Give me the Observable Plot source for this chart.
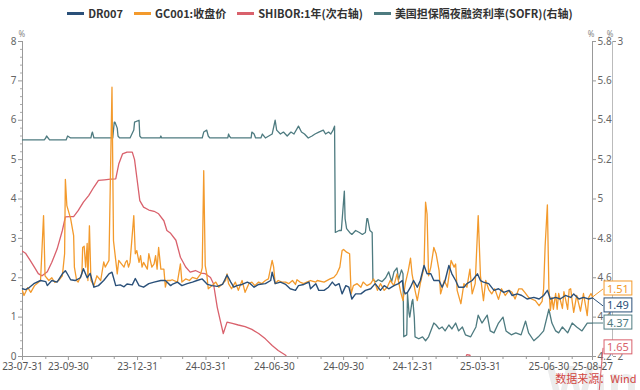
<!DOCTYPE html>
<html><head><meta charset="utf-8">
<script src="https://cdn.jsdelivr.net/npm/d3@7"></script>
<script src="https://cdn.jsdelivr.net/npm/@observablehq/plot@0.6"></script>
<style>
body{margin:0;width:640px;height:390px;overflow:hidden;background:#fff;font-family:"Noto Sans CJK SC","Noto Sans",sans-serif;}
#legend{height:26px;display:flex;justify-content:center;align-items:center;gap:11px;font-size:11px;font-weight:bold;color:#333;}
.item{display:flex;align-items:center;gap:4px;white-space:nowrap}
.sw{width:17px;height:3px;display:inline-block}
</style></head><body>
<div id="legend"></div><div id="chart"></div>
<script>
// ---- data ----
const seriesNames = ["DR007", "GC001:收盘价", "SHIBOR:1年(次右轴)", "美国担保隔夜融资利率(SOFR)(右轴)"];
const seriesColors = ["#2a5079", "#f39a2c", "#d9616c", "#4e7b80"];
const leftDomain = [0, 8];
const rightDomain = [4.2, 5.8];   // SOFR (右轴)
const secondDomain = [2, 3];      // SHIBOR (次右轴)
const leftTicks = [0,1,2,3,4,5,6,7,8];
const leftMinorTicks = [0.2,0.4,0.6,0.8,1.2,1.4,1.6,1.8,2.2,2.4,2.6,2.8,3.2,3.4,3.6,3.8,4.2,4.4,4.6,4.8,5.2,5.4,5.6,5.8,6.2,6.4,6.6,6.8,7.2,7.4,7.6,7.8];
const rightTicks = [4.2,4.4,4.6,4.8,5,5.2,5.4,5.6,5.8];
const secondTicks = [2,3];
const xLabelDates = ["2023-07-31","2023-09-30","2023-12-31","2024-03-31","2024-06-30","2024-09-30","2024-12-31","2025-03-31","2025-06-30","2025-08-27"];
const monthEnds = ["2023-08-31","2023-10-31","2023-11-30","2024-01-31","2024-02-29","2024-04-30","2024-05-31","2024-07-31","2024-08-31","2024-10-31","2024-11-30","2025-01-31","2025-02-28","2025-04-30","2025-05-31","2025-07-31"];
const caption = "数据来源：Wind";

const dr007 = [["2023-07-31",1.72],["2023-08-04",1.70],["2023-08-09",1.75],["2023-08-15",1.85],["2023-08-24",1.93],["2023-08-31",1.90],["2023-09-02",1.80],["2023-09-08",1.93],["2023-09-15",1.89],["2023-09-22",2.10],["2023-09-26",2.18],["2023-09-28",2.12],["2023-10-03",1.95],["2023-10-09",1.93],["2023-10-16",2.00],["2023-10-20",2.23],["2023-10-25",2.00],["2023-10-29",2.11],["2023-11-03",1.76],["2023-11-09",1.80],["2023-11-16",1.93],["2023-11-23",2.10],["2023-11-27",2.14],["2023-12-02",1.80],["2023-12-08",1.82],["2023-12-13",1.77],["2023-12-17",1.84],["2023-12-24",1.82],["2023-12-28",1.98],["2024-01-02",1.80],["2024-01-08",1.76],["2024-01-15",1.85],["2024-01-22",1.89],["2024-01-31",1.93],["2024-02-06",1.93],["2024-02-13",1.80],["2024-02-15",1.83],["2024-02-22",1.89],["2024-02-28",1.80],["2024-03-06",1.85],["2024-03-13",1.89],["2024-03-19",1.93],["2024-03-26",1.97],["2024-04-02",1.83],["2024-04-08",1.80],["2024-04-15",1.78],["2024-04-22",1.83],["2024-04-28",2.07],["2024-05-03",1.89],["2024-05-07",1.76],["2024-05-11",1.80],["2024-05-18",1.83],["2024-05-25",1.89],["2024-05-29",1.85],["2024-06-03",1.76],["2024-06-09",1.83],["2024-06-18",1.85],["2024-06-25",1.93],["2024-06-27",2.14],["2024-07-01",1.85],["2024-07-08",1.89],["2024-07-15",1.83],["2024-07-21",1.72],["2024-07-28",1.68],["2024-08-01",1.80],["2024-08-08",1.83],["2024-08-15",1.89],["2024-08-17",1.72],["2024-08-24",1.85],["2024-08-28",1.68],["2024-09-04",1.68],["2024-09-10",1.76],["2024-09-15",1.89],["2024-09-19",1.80],["2024-09-24",1.85],["2024-09-28",1.59],["2024-10-03",1.80],["2024-10-07",1.76],["2024-10-11",1.46],["2024-10-16",1.59],["2024-10-23",1.59],["2024-10-29",1.68],["2024-11-05",1.72],["2024-11-11",1.85],["2024-11-18",1.68],["2024-11-23",1.80],["2024-11-29",1.72],["2024-12-06",1.80],["2024-12-12",1.85],["2024-12-17",1.93],["2024-12-19",1.68],["2024-12-21",1.59],["2024-12-24",1.63],["2024-12-28",1.76],["2025-01-01",1.93],["2025-01-06",1.76],["2025-01-10",1.93],["2025-01-15",2.31],["2025-01-19",2.10],["2025-01-24",2.10],["2025-01-28",1.93],["2025-02-04",1.93],["2025-02-08",1.76],["2025-02-12",1.93],["2025-02-17",2.31],["2025-02-21",2.10],["2025-02-26",1.93],["2025-03-02",1.76],["2025-03-09",1.76],["2025-03-13",1.85],["2025-03-20",1.93],["2025-03-27",2.10],["2025-03-31",1.93],["2025-04-04",1.89],["2025-04-11",1.85],["2025-04-18",1.68],["2025-04-24",1.72],["2025-05-01",1.63],["2025-05-08",1.68],["2025-05-12",1.55],["2025-05-19",1.59],["2025-05-25",1.55],["2025-06-01",1.46],["2025-06-10",1.50],["2025-06-17",1.46],["2025-06-23",1.55],["2025-06-28",1.68],["2025-07-02",1.46],["2025-07-09",1.50],["2025-07-15",1.46],["2025-07-22",1.55],["2025-07-29",1.50],["2025-08-02",1.59],["2025-08-09",1.46],["2025-08-15",1.50],["2025-08-22",1.46],["2025-08-27",1.49]];

const gc001 = [["2023-07-31",1.67],["2023-08-02",1.55],["2023-08-07",1.75],["2023-08-11",1.63],["2023-08-16",1.80],["2023-08-19",1.85],["2023-08-24",1.93],["2023-08-28",3.58],["2023-08-30",2.05],["2023-09-04",1.93],["2023-09-08",2.00],["2023-09-12",1.88],["2023-09-17",1.93],["2023-09-22",2.05],["2023-09-25",2.61],["2023-09-26",4.50],["2023-09-28",3.83],["2023-10-03",3.50],["2023-10-07",3.07],["2023-10-08",2.27],["2023-10-11",1.93],["2023-10-13",1.89],["2023-10-18",2.10],["2023-10-19",2.77],["2023-10-21",2.80],["2023-10-23",2.27],["2023-10-25",2.87],["2023-10-26",1.93],["2023-10-28",3.32],["2023-10-30",1.93],["2023-11-03",1.80],["2023-11-07",2.05],["2023-11-12",1.93],["2023-11-16",2.40],["2023-11-18",2.27],["2023-11-23",2.44],["2023-11-27",6.84],["2023-11-29",2.94],["2023-12-02",2.44],["2023-12-04",2.10],["2023-12-06",2.44],["2023-12-08",2.39],["2023-12-13",2.27],["2023-12-15",2.39],["2023-12-17",2.44],["2023-12-19",2.27],["2023-12-21",2.39],["2023-12-26",3.58],["2023-12-28",2.61],["2023-12-30",2.69],["2024-01-02",2.39],["2024-01-04",2.56],["2024-01-06",2.27],["2024-01-08",2.39],["2024-01-13",2.22],["2024-01-15",2.61],["2024-01-19",2.27],["2024-01-22",2.35],["2024-01-24",2.56],["2024-01-26",2.22],["2024-01-28",2.77],["2024-01-31",2.22],["2024-02-04",2.22],["2024-02-06",1.76],["2024-02-08",1.93],["2024-02-13",1.93],["2024-02-15",1.95],["2024-02-22",1.89],["2024-02-26",2.35],["2024-02-28",1.89],["2024-03-04",1.97],["2024-03-09",1.93],["2024-03-13",2.01],["2024-03-19",1.97],["2024-03-24",2.10],["2024-03-26",2.25],["2024-03-28",4.72],["2024-03-30",2.31],["2024-04-01",2.10],["2024-04-03",1.72],["2024-04-08",1.80],["2024-04-13",1.89],["2024-04-17",1.76],["2024-04-22",1.85],["2024-04-26",1.93],["2024-04-28",2.10],["2024-04-30",1.85],["2024-05-04",1.72],["2024-05-09",1.89],["2024-05-13",1.68],["2024-05-18",1.93],["2024-05-22",1.63],["2024-05-27",1.85],["2024-05-31",1.89],["2024-06-04",1.80],["2024-06-09",1.89],["2024-06-13",1.85],["2024-06-18",1.93],["2024-06-22",1.97],["2024-06-27",2.44],["2024-06-29",2.27],["2024-07-01",1.85],["2024-07-05",1.93],["2024-07-10",1.89],["2024-07-15",1.89],["2024-07-19",1.85],["2024-07-24",1.93],["2024-07-28",1.83],["2024-07-30",1.95],["2024-08-03",1.89],["2024-08-08",1.85],["2024-08-12",1.89],["2024-08-17",1.93],["2024-08-24",1.89],["2024-08-26",1.93],["2024-09-04",1.89],["2024-09-12",1.97],["2024-09-17",2.01],["2024-09-21",2.10],["2024-09-25",2.27],["2024-09-28",2.69],["2024-09-30",2.72],["2024-10-04",2.65],["2024-10-08",2.61],["2024-10-10",1.59],["2024-10-13",1.80],["2024-10-18",1.85],["2024-10-23",1.76],["2024-10-26",1.89],["2024-10-31",1.80],["2024-11-05",1.85],["2024-11-09",1.97],["2024-11-14",1.68],["2024-11-18",1.85],["2024-11-23",1.68],["2024-11-27",1.76],["2024-12-01",1.93],["2024-12-06",1.80],["2024-12-10",2.10],["2024-12-15",1.63],["2024-12-18",1.42],["2024-12-21",1.85],["2024-12-25",2.18],["2024-12-28",2.50],["2024-12-30",2.10],["2025-01-03",1.68],["2025-01-06",1.42],["2025-01-10",1.85],["2025-01-15",2.27],["2025-01-17",3.92],["2025-01-19",3.62],["2025-01-21",2.05],["2025-01-24",2.27],["2025-01-28",2.77],["2025-01-31",2.61],["2025-02-04",2.18],["2025-02-06",1.59],["2025-02-11",1.93],["2025-02-15",1.76],["2025-02-20",2.44],["2025-02-24",2.27],["2025-02-26",2.35],["2025-02-28",1.68],["2025-03-05",1.34],["2025-03-09",1.85],["2025-03-13",1.76],["2025-03-17",2.22],["2025-03-20",1.59],["2025-03-24",1.85],["2025-03-28",3.58],["2025-03-31",2.05],["2025-04-04",1.42],["2025-04-07",1.93],["2025-04-11",1.70],["2025-04-15",1.59],["2025-04-19",1.72],["2025-04-24",1.45],["2025-04-28",1.72],["2025-05-03",1.55],["2025-05-08",1.68],["2025-05-12",1.63],["2025-05-16",1.46],["2025-05-21",1.72],["2025-05-25",1.72],["2025-05-29",1.63],["2025-06-03",1.50],["2025-06-07",1.46],["2025-06-12",1.42],["2025-06-17",1.29],["2025-06-21",1.40],["2025-06-23",1.72],["2025-06-25",2.80],["2025-06-28",3.85],["2025-06-30",1.72],["2025-07-02",1.17],["2025-07-04",1.50],["2025-07-06",1.20],["2025-07-09",1.60],["2025-07-11",1.20],["2025-07-13",1.60],["2025-07-18",1.22],["2025-07-20",1.65],["2025-07-25",1.20],["2025-07-27",1.70],["2025-07-29",1.72],["2025-07-31",1.40],["2025-08-02",1.12],["2025-08-06",1.55],["2025-08-11",1.15],["2025-08-15",1.60],["2025-08-20",1.04],["2025-08-22",1.50],["2025-08-25",1.60],["2025-08-27",1.51]];

const shibor1y = [["2023-07-31",2.334],["2023-08-04",2.328],["2023-08-10",2.306],["2023-08-17",2.279],["2023-08-21",2.263],["2023-08-26",2.256],["2023-09-02",2.269],["2023-09-08",2.299],["2023-09-15",2.341],["2023-09-22",2.400],["2023-09-26",2.443],["2023-10-02",2.444],["2023-10-07",2.444],["2023-10-13",2.463],["2023-10-20",2.490],["2023-10-27",2.511],["2023-11-03",2.538],["2023-11-09",2.559],["2023-11-17",2.561],["2023-11-25",2.563],["2023-12-02",2.564],["2023-12-06",2.611],["2023-12-11",2.643],["2023-12-17",2.649],["2023-12-24",2.649],["2023-12-27",2.625],["2023-12-30",2.569],["2024-01-03",2.495],["2024-01-08",2.474],["2024-01-15",2.465],["2024-01-22",2.461],["2024-01-28",2.453],["2024-02-04",2.431],["2024-02-08",2.400],["2024-02-13",2.391],["2024-02-20",2.369],["2024-02-26",2.315],["2024-03-04",2.284],["2024-03-10",2.268],["2024-03-17",2.273],["2024-03-24",2.265],["2024-03-30",2.263],["2024-04-06",2.251],["2024-04-10",2.231],["2024-04-15",2.156],["2024-04-19",2.114],["2024-04-23",2.073],["2024-04-28",2.109],["2024-05-05",2.105],["2024-05-13",2.100],["2024-05-22",2.095],["2024-05-31",2.086],["2024-06-09",2.073],["2024-06-18",2.056],["2024-06-27",2.035],["2024-07-05",2.019],["2024-07-15",2.004],["2024-07-21",1.975],["2024-08-15",1.92],["2024-09-13",1.87],["2024-10-15",1.81],["2024-11-15",1.78],["2024-12-13",1.70],["2024-12-31",1.68],["2025-01-15",1.72],["2025-02-05",1.80],["2025-02-25",1.92],["2025-03-10",1.99],["2025-03-13",2.006],["2025-03-17",2.004],["2025-03-20",1.98],["2025-04-10",1.85],["2025-05-15",1.75],["2025-06-15",1.68],["2025-07-15",1.64],["2025-08-27",1.65]];

const sofr = [["2023-07-31",5.30],["2023-08-29",5.30],["2023-08-31",5.31],["2023-09-01",5.32],["2023-09-05",5.30],["2023-09-27",5.30],["2023-09-29",5.32],["2023-10-03",5.31],["2023-10-30",5.31],["2023-10-31",5.33],["2023-11-01",5.34],["2023-11-03",5.31],["2023-11-28",5.31],["2023-11-30",5.39],["2023-12-01",5.39],["2023-12-04",5.36],["2023-12-05",5.32],["2023-12-07",5.31],["2023-12-21",5.31],["2023-12-26",5.35],["2023-12-27",5.39],["2024-01-02",5.40],["2024-01-03",5.32],["2024-01-05",5.31],["2024-01-30",5.31],["2024-01-31",5.32],["2024-02-01",5.31],["2024-03-26",5.31],["2024-03-28",5.34],["2024-04-01",5.35],["2024-04-03",5.32],["2024-04-05",5.31],["2024-04-29",5.31],["2024-04-30",5.33],["2024-05-01",5.32],["2024-05-03",5.31],["2024-05-30",5.31],["2024-05-31",5.34],["2024-06-03",5.33],["2024-06-05",5.31],["2024-06-12",5.31],["2024-06-14",5.33],["2024-06-18",5.31],["2024-06-27",5.33],["2024-07-01",5.40],["2024-07-03",5.35],["2024-07-08",5.33],["2024-07-12",5.34],["2024-07-17",5.32],["2024-07-22",5.34],["2024-07-26",5.33],["2024-08-01",5.37],["2024-08-05",5.34],["2024-08-09",5.33],["2024-08-14",5.31],["2024-08-19",5.32],["2024-08-23",5.33],["2024-08-28",5.34],["2024-09-03",5.35],["2024-09-06",5.33],["2024-09-10",5.34],["2024-09-13",5.33],["2024-09-16",5.35],["2024-09-18",5.37],["2024-09-19",4.83],["2024-09-24",4.84],["2024-09-27",4.84],["2024-10-01",5.04],["2024-10-02",4.90],["2024-10-04",4.85],["2024-10-08",4.83],["2024-10-11",4.82],["2024-10-16",4.84],["2024-10-21",4.83],["2024-10-25",4.82],["2024-10-29",4.83],["2024-10-31",4.90],["2024-11-01",4.90],["2024-11-04",4.84],["2024-11-07",4.83],["2024-11-08",4.59],["2024-11-12",4.58],["2024-11-15",4.59],["2024-11-20",4.58],["2024-11-25",4.60],["2024-11-29",4.63],["2024-12-03",4.58],["2024-12-06",4.63],["2024-12-10",4.65],["2024-12-12",4.59],["2024-12-16",4.64],["2024-12-18",4.62],["2024-12-19",4.30],["2024-12-23",4.31],["2024-12-24",4.52],["2024-12-26",4.42],["2024-12-27",4.40],["2024-12-30",4.48],["2024-12-31",4.49],["2025-01-02",4.40],["2025-01-03",4.30],["2025-01-08",4.29],["2025-01-13",4.30],["2025-01-17",4.28],["2025-01-21",4.30],["2025-01-28",4.37],["2025-01-31",4.36],["2025-02-04",4.34],["2025-02-08",4.35],["2025-02-12",4.33],["2025-02-17",4.36],["2025-02-21",4.34],["2025-02-26",4.37],["2025-03-02",4.33],["2025-03-07",4.35],["2025-03-11",4.31],["2025-03-18",4.30],["2025-03-25",4.35],["2025-03-28",4.41],["2025-04-02",4.37],["2025-04-09",4.41],["2025-04-13",4.33],["2025-04-18",4.32],["2025-04-24",4.37],["2025-04-30",4.40],["2025-05-04",4.33],["2025-05-11",4.31],["2025-05-17",4.32],["2025-05-24",4.31],["2025-05-30",4.38],["2025-06-03",4.32],["2025-06-10",4.28],["2025-06-16",4.30],["2025-06-23",4.33],["2025-06-30",4.44],["2025-07-04",4.37],["2025-07-09",4.33],["2025-07-13",4.32],["2025-07-18",4.35],["2025-07-25",4.32],["2025-07-31",4.37],["2025-08-06",4.35],["2025-08-13",4.33],["2025-08-20",4.37],["2025-08-27",4.37]];

// ---- build ----
const parse = d3.utcParse("%Y-%m-%d");
const [BLUE, ORANGE, RED, TEAL] = seriesColors;
const toLeftFromRight = d3.scaleLinear(rightDomain, leftDomain);
const toLeftFromSecond = d3.scaleLinear(secondDomain, leftDomain);
const rows = (pairs, f) => pairs.map(([d, v]) => ({date: parse(d), value: v, y: f(v)}));
const dr = rows(dr007, v => v);
const gc = rows(gc001, v => v);
const sh = rows(shibor1y, v => toLeftFromSecond(v));
const so = rows(sofr, v => toLeftFromRight(v));
const xStart = parse(xLabelDates[0]), xEnd = parse(xLabelDates[xLabelDates.length - 1]);
const labelX = d3.utcDay.offset(xEnd, 14);

// end labels, de-overlapped
const ends = [
  {row: gc.at(-1), color: ORANGE},
  {row: dr.at(-1), color: BLUE},
  {row: so.at(-1), color: TEAL},
  {row: sh.at(-1), color: RED}
].map(d => ({value: d.row.value, y: d.row.y, ly: d.row.y, color: d.color}));
const gap = 0.43, floor = 0.22;
ends.forEach(d => d.ly = Math.max(d.ly, floor));
for (let it = 0; it < 60; it++) {
  const s = ends.slice().sort((a, b) => b.ly - a.ly);
  for (let i = 0; i < s.length - 1; i++) {
    const o = gap - (s[i].ly - s[i + 1].ly);
    if (o > 0) { s[i].ly += o / 2; s[i + 1].ly -= o / 2; }
  }
  ends.forEach(d => d.ly = Math.max(d.ly, floor));
}

// legend
const lg = document.getElementById("legend");
seriesNames.forEach((n, i) => {
  const it = document.createElement("span"); it.className = "item";
  it.innerHTML = `<span class="sw" style="background:${seriesColors[i]}"></span><span>${n}</span>`;
  lg.append(it);
});

const fmtR = v => String(+v.toFixed(1));
const chart = Plot.plot({
  width: 640, height: 364,
  marginLeft: 22, marginRight: 48, marginTop: 15, marginBottom: 34,
  style: {fontFamily: '"Noto Sans", sans-serif', fontSize: "10px", color: "#555", overflow: "visible", background: "transparent"},
  x: {type: "utc", domain: [xStart, xEnd]},
  y: {domain: leftDomain},
  marks: [
    Plot.text(["Wind"], {frameAnchor: "bottom-right", dx: 76, dy: 44, lineAnchor: "bottom", textAnchor: "end", fontSize: 50, fontWeight: "bold", fill: "#ececec", fontFamily: "Liberation Sans"}),
    Plot.axisY({ticks: leftMinorTicks, tickSize: 2, stroke: "#aaa", fill: "none", label: null}),
    Plot.axisY({ticks: leftTicks, tickSize: 4, tickPadding: 2, stroke: "#999", fill: "#666", label: null}),
    Plot.axisY({anchor: "right", ticks: rightTicks.map(toLeftFromRight), tickFormat: d => fmtR(toLeftFromRight.invert(d)), tickSize: 3, tickPadding: 2, stroke: "#999", fill: "#666", label: null}),
    Plot.axisY({anchor: "right", dx: 20, ticks: secondTicks.map(toLeftFromSecond), tickFormat: d => fmtR(toLeftFromSecond.invert(d)), tickSize: 3, tickPadding: 2, stroke: "#999", fill: "#666", label: null}),
    Plot.axisX({ticks: monthEnds.map(parse), tickSize: 3, stroke: "#999", fill: "none", label: null}),
    Plot.axisX({ticks: xLabelDates.map(parse), tickFormat: d3.utcFormat("%y-%m-%d"), tickSize: 4, tickPadding: 2, stroke: "#999", fill: "#555", label: null}),
    Plot.ruleX([xStart], {stroke: "#999"}),
    Plot.ruleX([xEnd], {stroke: "#999"}),
    Plot.ruleX([xEnd], {stroke: "#bbb", dx: 20}),
    Plot.ruleY([leftDomain[0]], {stroke: "#999"}),
    Plot.line(sh, {x: "date", y: "y", stroke: RED, strokeWidth: 1.3, clip: true}),
    Plot.line(so, {x: "date", y: "y", stroke: TEAL, strokeWidth: 1.3}),
    Plot.line(gc, {x: "date", y: "y", stroke: ORANGE, strokeWidth: 1.3}),
    Plot.line(dr, {x: "date", y: "y", stroke: BLUE, strokeWidth: 1.4}),
    Plot.link(ends, {x1: () => xEnd, y1: "y", x2: () => labelX, y2: "ly", stroke: d => d.color}),
    Plot.text(ends, {x: () => labelX, y: "ly", text: d => d.value.toFixed(2), fill: d => d.color, textAnchor: "start", dx: 4, fontSize: 11, ariaDescription: "end-labels"}),
    Plot.text(["%"], {frameAnchor: "top-left", dx: -4, dy: -10, fontSize: 8, fill: "#888"}),
    Plot.text(["%"], {frameAnchor: "top-right", dx: 2, dy: -10, fontSize: 8, fill: "#888"}),
    Plot.text(["%"], {frameAnchor: "top-right", dx: 21, dy: -10, fontSize: 8, fill: "#888"}),
    Plot.text([caption], {frameAnchor: "bottom-right", dx: 44, dy: 26, textAnchor: "end", fontSize: 11, fill: "#d0453f", fontFamily: '"Noto Sans CJK SC", sans-serif'})
  ]
});
document.getElementById("chart").append(chart);
chart.querySelectorAll('g[aria-description="end-labels"] text').forEach((t, i) => {
  const b = t.getBBox();
  const r = document.createElementNS("http://www.w3.org/2000/svg", "rect");
  r.setAttribute("x", b.x - 3); r.setAttribute("y", b.y + 0.5);
  r.setAttribute("width", b.width + 6); r.setAttribute("height", b.height - 1);
  r.setAttribute("fill", "white"); r.setAttribute("stroke", ends[i].color);
  const tr = t.getAttribute("transform"); if (tr) r.setAttribute("transform", tr);
  t.parentNode.insertBefore(r, t);
});
</script>
</body></html>
